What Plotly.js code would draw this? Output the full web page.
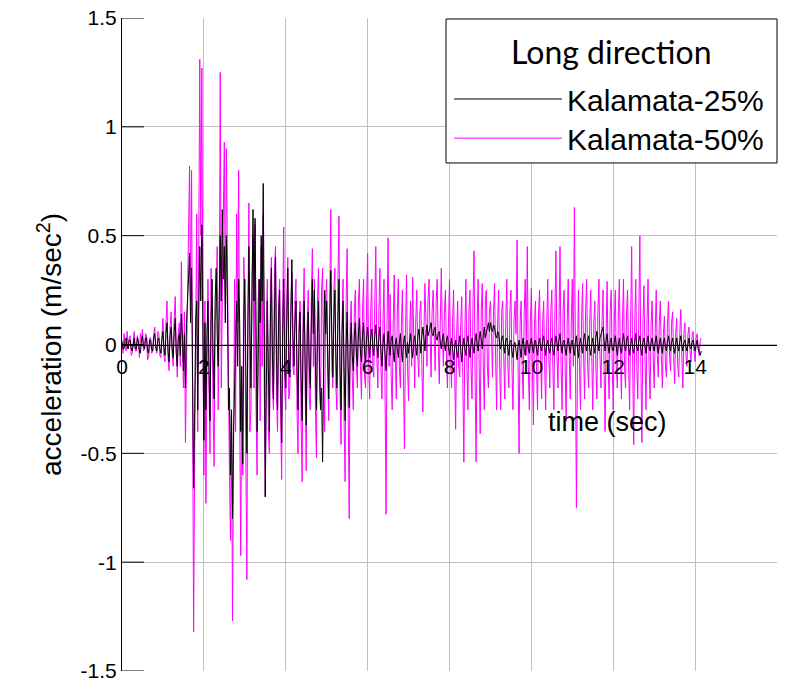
<!DOCTYPE html>
<html><head><meta charset="utf-8">
<script src="https://cdn.plot.ly/plotly-3.0.1.min.js"></script>
<style>html,body{margin:0;padding:0;background:#fff}#chart{width:788px;height:683px}</style>
</head><body><div id="chart"></div>
<script>
// sampling of the records (sec)
const timeStart = 0;
const timeStep = 0.025;

// Kalamata-25% acceleration (m/sec^2), one row per second
const kalamata25 = [
 0.01,-0.02,-0.02,0.02,0.03,-0.01,-0.02,0.02,0.02,-0.02,-0.03,0.01,0.03,-0.02,-0.02,0.03,0.01,-0.03,-0.04,0.02,0.04,-0.01,-0.02,0.03,0.03,-0.03,-0.04,0.02,0.02,-0.02,-0.03,0.03,0.05,-0.01,-0.03,0.02,0.03,-0.02,-0.04,0.02,
 0.06,-0.02,-0.05,0.05,0.1,-0.03,-0.08,0.04,0.08,-0.02,-0.06,0.06,0.12,-0.04,-0.1,0.03,0.05,-0.05,0.14,0.02,-0.12,0.05,-0.2,0.1,0.25,0.3,0.42,0.1,0.35,-0.2,-0.66,-0.3,0.1,0.2,-0.3,0.15,0.45,0.2,0.55,0.1,
 -0.44,0.1,-0.3,0.05,0.2,-0.1,-0.35,0.1,0.3,-0.05,-0.25,0.2,0.35,0.05,-0.1,0.2,0.5,0.2,0.62,0.3,0.45,0.1,0.5,0.2,-0.3,-0.2,-0.6,-0.3,-0.8,-0.4,-0.2,0.05,0.2,-0.1,0.3,0.1,-0.4,-0.1,-0.55,0.1,
 0.3,-0.1,-0.5,0.1,0.45,0.1,-0.2,0.2,0.62,0.2,0.58,0.1,-0.4,-0.1,0.3,0.1,0.5,0.2,0.74,0.1,-0.7,-0.2,0.2,-0.1,-0.4,0.1,0.35,-0.05,-0.25,0.15,0.4,-0.05,-0.3,0.1,0.25,-0.15,-0.45,0.05,0.3,-0.1,
 -0.2,0.1,0.35,-0.05,-0.15,0.15,0.39,0.05,-0.1,0.1,0.2,-0.1,-0.3,0.05,0.15,-0.15,-0.35,0.05,0.2,-0.1,-0.37,0.05,0.15,-0.1,-0.2,0.1,0.3,0.05,0.25,-0.1,-0.3,0.05,0.2,-0.1,-0.3,-0.2,-0.54,-0.1,0.25,0.05,
 0.2,-0.05,-0.25,0.1,0.34,0.05,-0.15,0.1,0.25,-0.05,-0.2,0.1,0.3,-0.1,-0.3,0.05,0.2,-0.1,-0.35,0.0,0.15,-0.1,-0.29,0.0,0.1,-0.05,-0.12,0.04,0.1,-0.04,-0.1,0.05,0.12,-0.03,-0.08,0.04,0.1,-0.03,-0.08,0.03,
 0.08,0.01,-0.06,0.03,0.07,-0.01,-0.05,0.04,0.09,0.0,-0.06,0.03,0.08,-0.03,-0.1,0.0,0.05,-0.04,-0.12,-0.02,0.06,-0.01,-0.05,0.02,0.04,-0.03,-0.08,0.0,0.03,-0.02,-0.06,0.01,0.05,-0.03,-0.08,0.0,0.04,-0.02,-0.06,0.01,
 -0.04,0.01,0.05,-0.02,-0.06,0.01,0.04,-0.01,-0.05,0.03,0.07,0.02,-0.04,0.04,0.08,0.03,-0.03,0.05,0.09,0.04,0.06,0.08,0.1,0.05,0.04,0.07,0.08,0.03,0.02,0.05,0.06,0.01,-0.02,0.03,0.05,0.0,-0.03,0.02,0.04,-0.01,
 -0.05,-0.01,0.03,-0.02,-0.07,-0.02,0.02,-0.03,-0.06,0.0,0.04,-0.02,-0.08,-0.01,0.03,-0.02,-0.05,0.01,0.04,-0.01,-0.06,0.0,0.03,-0.01,-0.04,0.02,0.05,0.0,-0.03,0.03,0.06,0.02,-0.02,0.04,0.08,0.03,0.05,0.07,0.1,0.06,
 0.1,0.07,0.06,0.09,0.08,0.04,0.03,0.06,0.05,0.0,-0.02,0.03,0.04,-0.01,-0.04,0.02,0.03,-0.02,-0.05,0.01,0.02,-0.03,-0.06,0.0,0.01,-0.03,-0.07,-0.01,0.02,-0.02,-0.06,0.0,0.03,-0.02,-0.05,0.01,0.02,-0.02,-0.04,0.01,
 0.03,-0.01,-0.04,0.01,0.02,-0.02,-0.05,0.0,0.03,-0.01,-0.03,0.02,0.04,-0.01,-0.05,0.0,0.02,-0.02,-0.04,0.01,0.03,-0.02,-0.05,0.0,0.04,0.01,-0.03,0.02,0.05,-0.01,-0.04,0.01,0.02,-0.02,-0.05,0.0,0.03,-0.01,-0.04,0.01,
 0.02,-0.02,-0.05,0.01,0.04,-0.02,-0.06,0.0,0.03,-0.01,-0.04,0.02,0.05,0.0,-0.03,0.02,0.04,-0.02,-0.05,0.0,0.03,-0.01,-0.04,0.03,0.06,0.01,-0.03,0.03,0.05,0.06,0.08,0.02,-0.03,0.02,0.05,-0.01,-0.04,0.01,0.03,-0.02,
 -0.03,0.01,0.04,-0.01,-0.05,0.0,0.03,-0.02,-0.04,0.01,0.05,0.0,-0.03,0.02,0.04,-0.01,-0.05,0.0,0.03,-0.02,-0.04,0.01,0.05,-0.01,-0.03,0.02,0.04,-0.02,-0.05,0.01,0.03,-0.01,-0.04,0.01,0.04,-0.01,-0.03,0.01,0.03,-0.01,
 -0.03,0.01,0.04,-0.01,-0.04,0.0,0.03,-0.01,-0.04,0.01,0.03,-0.01,-0.03,0.01,0.04,0.0,-0.03,0.01,0.03,-0.01,-0.04,0.0,0.03,-0.01,-0.03,0.01,0.04,0.0,-0.03,0.01,0.02,-0.01,-0.03,0.0,0.03,-0.01,-0.02,0.01,0.02,-0.01,
 -0.03,0.0,0.02,-0.02,-0.04,-0.05,-0.03
];

// Kalamata-50% acceleration (m/sec^2), one row per second
const kalamata50 = [
 0.02,-0.04,0.05,0.01,-0.03,0.06,-0.02,0.03,0.04,-0.05,-0.04,0.02,0.06,-0.03,-0.03,0.04,0.02,-0.06,0.05,0.01,0.07,-0.03,-0.02,0.05,0.04,-0.07,-0.06,0.03,0.03,-0.04,-0.03,0.05,0.08,-0.02,-0.04,0.06,0.05,-0.05,-0.06,0.04,
 0.12,-0.05,-0.08,0.1,0.2,-0.06,-0.12,0.08,0.15,-0.04,-0.1,0.12,0.22,-0.02,-0.15,0.05,0.1,-0.1,0.38,0.05,-0.2,0.15,-0.45,-0.1,0.3,0.5,0.82,0.2,0.8,-0.3,-1.32,-0.5,0.2,0.6,-0.4,0.3,1.31,0.5,1.27,0.1,
 -0.6,0.2,-0.73,-0.1,0.3,-0.2,-0.5,0.35,0.15,-0.3,-0.56,0.1,0.2,0.45,-0.3,0.1,1.25,-0.2,0.4,0.6,0.93,0.1,0.9,0.3,-0.2,-0.6,-0.9,-0.3,-1.27,-0.5,0.3,-0.4,0.6,0.1,0.8,-0.3,-0.97,-0.2,-0.6,0.4,
 0.2,-0.5,-1.08,0.1,0.65,-0.4,-0.3,0.3,0.5,-0.2,0.55,-0.3,-0.6,0.2,0.3,-0.35,0.45,-0.1,0.6,-0.2,-0.7,0.1,0.3,-0.4,-0.5,0.25,0.4,-0.2,-0.3,0.35,0.45,-0.25,-0.4,0.2,0.3,-0.35,-0.62,0.15,0.54,-0.2,
 -0.3,0.2,0.4,-0.25,-0.2,0.15,0.33,-0.1,-0.14,0.2,0.3,-0.3,-0.5,0.1,0.2,-0.35,-0.63,0.15,0.35,-0.2,-0.58,0.1,0.25,-0.25,-0.3,0.2,0.44,-0.1,0.3,-0.3,-0.52,0.2,0.35,-0.2,-0.3,0.25,0.35,-0.15,-0.4,0.2,
 0.3,-0.15,-0.35,0.2,0.62,-0.1,-0.2,0.25,0.35,-0.2,-0.3,0.3,0.59,-0.2,-0.46,0.1,0.3,-0.35,-0.63,0.2,0.44,-0.3,-0.8,0.1,0.2,-0.15,-0.3,0.15,0.25,-0.1,-0.2,0.2,0.3,-0.1,-0.25,0.15,0.3,-0.15,-0.2,0.2,
 0.42,-0.1,-0.25,0.15,0.3,-0.1,-0.15,0.2,0.45,-0.05,-0.2,0.15,0.35,-0.1,-0.25,0.1,0.3,-0.2,-0.78,0.1,0.49,-0.1,0.23,-0.15,-0.3,0.1,0.32,-0.05,-0.25,0.15,0.3,-0.1,-0.2,0.1,0.25,-0.15,-0.48,0.05,0.32,-0.1,
 -0.26,0.05,0.2,-0.1,0.31,0.05,-0.2,0.1,0.25,-0.05,-0.15,0.15,0.2,-0.1,-0.31,0.05,0.28,0.1,-0.1,0.2,0.3,0.05,-0.15,0.15,0.25,0.05,-0.12,0.2,0.3,0.0,-0.18,0.1,0.35,0.05,-0.1,0.15,0.25,-0.05,-0.2,0.1,
 0.3,-0.05,-0.2,0.1,0.25,-0.1,-0.39,0.05,0.2,-0.1,-0.15,0.1,0.22,-0.15,-0.54,0.05,0.3,-0.1,-0.3,0.15,0.25,-0.1,-0.25,0.2,0.43,-0.15,-0.54,0.1,0.3,-0.1,-0.41,0.15,0.28,-0.1,-0.3,0.2,0.25,-0.1,-0.2,0.15,
 0.2,0.05,-0.15,0.15,0.28,-0.05,-0.3,0.1,0.25,-0.1,-0.3,0.15,0.2,-0.05,-0.25,0.1,0.3,-0.1,-0.2,0.15,0.25,-0.1,-0.3,0.1,0.2,0.05,0.48,-0.1,-0.5,0.1,0.2,-0.1,-0.25,0.15,0.3,-0.05,0.45,-0.1,-0.3,0.1,
 0.26,-0.1,-0.37,0.1,0.2,-0.1,-0.3,0.15,0.25,-0.05,-0.25,0.1,0.2,-0.1,-0.3,0.1,0.3,-0.05,-0.2,0.15,0.25,-0.1,-0.3,0.15,0.43,-0.05,-0.2,0.1,0.45,-0.1,-0.3,0.15,0.25,-0.1,-0.35,0.1,0.3,-0.05,-0.25,0.1,
 0.3,-0.1,0.63,0.0,-0.75,-0.1,0.25,-0.1,-0.3,0.1,0.28,-0.05,-0.25,0.15,0.3,-0.1,-0.2,0.1,0.25,-0.05,-0.3,0.1,0.2,-0.1,-0.25,0.15,0.3,-0.05,-0.2,0.1,0.25,-0.1,-0.4,0.05,0.29,-0.1,-0.25,0.15,0.25,-0.1,
 -0.3,0.1,0.25,-0.1,-0.2,0.15,0.3,-0.05,-0.25,0.1,0.3,-0.1,-0.2,0.15,0.25,-0.1,-0.3,0.1,0.45,-0.1,-0.46,0.1,0.3,-0.1,-0.25,0.15,0.5,-0.1,-0.45,0.1,0.27,-0.05,-0.3,0.1,0.3,-0.1,-0.25,0.1,0.2,-0.05,
 -0.2,0.05,0.25,-0.05,-0.15,0.1,0.2,-0.05,-0.2,0.05,0.13,-0.1,-0.15,0.1,0.2,-0.05,-0.12,0.1,0.15,-0.05,-0.18,0.05,0.12,-0.1,-0.15,0.05,0.16,-0.05,-0.2,0.05,0.1,-0.05,-0.1,0.05,0.08,-0.03,-0.08,0.04,0.06,-0.03,
 -0.08,0.03,0.05,-0.02,-0.05,0.02,0.03
];

const seriesNames = ['Kalamata-25%', 'Kalamata-50%'];
const legendTitle = 'Long direction';
const xTickVals = [0, 2, 4, 6, 8, 10, 12, 14, 16];
const xTickText = ['0', '2', '4', '6', '8', '10', '12', '14', '16'];
const yTickVals = [-1.5, -1, -0.5, 0, 0.5, 1, 1.5];
const yTickText = ['-1.5', '-1', '-0.5', '0', '0.5', '1', '1.5'];

const traces = [
  {type: 'scatter', mode: 'lines', name: seriesNames[1], x0: timeStart, dx: timeStep, y: kalamata50,
   line: {color: '#FF00FF', width: 1}, legend: 'legend2'},
  {type: 'scatter', mode: 'lines', name: seriesNames[0], x0: timeStart, dx: timeStep, y: kalamata25,
   line: {color: '#000000', width: 1}, legend: 'legend'}
];

const legendCommon = {
  xanchor: 'left', x: 0.4992, yanchor: 'middle',
  bgcolor: 'rgba(0,0,0,0)', borderwidth: 0,
  font: {size: 30}, itemwidth: 108
};

// inward tick marks on the left axis (22 px long, plot area is 655 px wide)
const tickShapes = yTickVals.map(v => ({
  type: 'line', xref: 'paper', yref: 'y', x0: 0, x1: 22 / 655, y0: v, y1: v,
  line: {color: '#000000', width: 1}, layer: 'above'
}));

const layout = {
  width: 788, height: 683,
  margin: {l: 122, r: 11, t: 18, b: 12, pad: 0},
  paper_bgcolor: '#ffffff', plot_bgcolor: '#ffffff',
  font: {family: 'Liberation Sans, Arial, sans-serif', size: 21, color: '#000000'},
  showlegend: true,
  xaxis: {
    range: [0, 16], tickmode: 'array', tickvals: xTickVals, ticktext: xTickText,
    showgrid: true, gridcolor: '#c0c0c0', gridwidth: 1, zeroline: false,
    showline: true, linecolor: '#000000', linewidth: 1,
    anchor: 'free', position: 0.5, ticks: '', ticklabelstandoff: 3,
    tickfont: {size: 21}, fixedrange: true
  },
  yaxis: {
    range: [-1.5, 1.5], tickmode: 'array', tickvals: yTickVals, ticktext: yTickText,
    showgrid: true, gridcolor: '#c0c0c0', gridwidth: 1, zeroline: false,
    showline: true, linecolor: '#000000', linewidth: 1,
    ticks: '', tickfont: {size: 21},
    title: {text: 'acceleration (m/sec<sup>2</sup>)', font: {size: 28}, standoff: 10},
    fixedrange: true
  },
  legend: Object.assign({}, legendCommon, {y: 0.876}),
  legend2: Object.assign({}, legendCommon, {y: 0.816}),
  shapes: tickShapes.concat([
    {type: 'rect', xref: 'paper', yref: 'paper', x0: 0.4947, x1: 1, y0: 0.778, y1: 0.9985,
     line: {color: '#000000', width: 1}, fillcolor: '#ffffff', layer: 'above'}
  ]),
  annotations: [
    {xref: 'paper', yref: 'paper', x: 0.7473, y: 0.948, text: legendTitle, showarrow: false,
     font: {family: 'Lato, Open Sans, sans-serif', size: 32}, xanchor: 'center', yanchor: 'middle'},
    {xref: 'x', yref: 'y', x: 11.87, y: -0.354, text: 'time (sec)', showarrow: false,
     font: {size: 27}, xanchor: 'center', yanchor: 'middle'}
  ]
};

Plotly.newPlot('chart', traces, layout, {staticPlot: true, displayModeBar: false});
</script>
</body></html>
